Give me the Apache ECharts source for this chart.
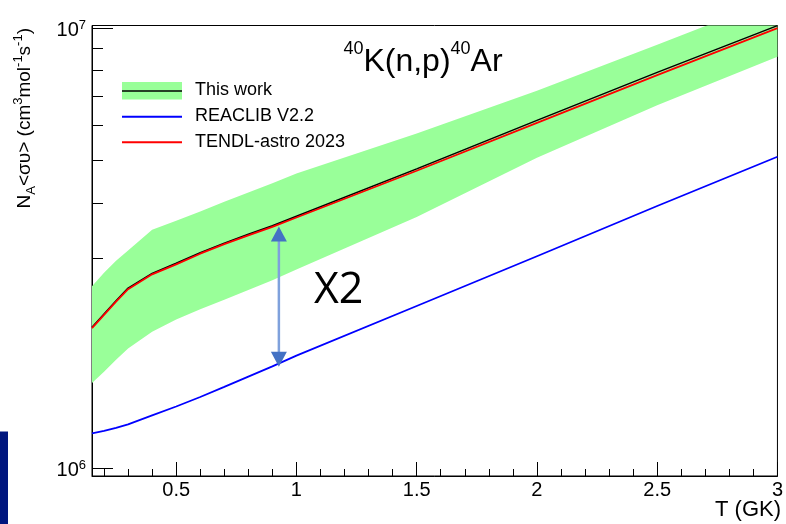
<!DOCTYPE html>
<html>
<head>
<meta charset="utf-8">
<script src="https://cdn.jsdelivr.net/npm/echarts@6/dist/echarts.min.js"></script>
<style>
  html, body { margin: 0; padding: 0; background: #fff; }
  #chart { width: 786px; height: 524px; }
</style>
</head>
<body>
<div id="chart"></div>
<script>
// Temperature grid, T in GK
const temps = [0.15, 0.2, 0.25, 0.3, 0.4, 0.5, 0.6, 0.7, 0.8, 0.9, 1.0, 1.5, 2.0, 2.5, 3.0];

// 40K(n,p)40Ar rates N_A<sigma v> in cm^3 mol^-1 s^-1
const thisWork      = [2.09e6, 2.24e6, 2.40e6, 2.565e6, 2.77e6, 2.92e6, 3.085e6, 3.245e6, 3.40e6, 3.555e6, 3.735e6, 4.785e6, 6.17e6, 7.93e6, 1.013e7];
const thisWorkUpper = [2.59e6, 2.78e6, 2.96e6, 3.12e6, 3.48e6, 3.65e6, 3.83e6, 4.03e6, 4.23e6, 4.44e6, 4.67e6, 5.76e6, 7.20e6, 9.17e6, 1.17e7];
const thisWorkLower = [1.56e6, 1.655e6, 1.762e6, 1.87e6, 2.04e6, 2.175e6, 2.295e6, 2.414e6, 2.54e6, 2.673e6, 2.828e6, 3.72e6, 5.07e6, 6.68e6, 8.61e6];
const reaclib       = [1.199e6, 1.214e6, 1.233e6, 1.256e6, 1.317e6, 1.380e6, 1.450e6, 1.529e6, 1.613e6, 1.702e6, 1.801e6, 2.335e6, 3.03e6, 3.94e6, 5.10e6];
const tendl         = [2.08e6, 2.23e6, 2.39e6, 2.55e6, 2.756e6, 2.904e6, 3.07e6, 3.228e6, 3.38e6, 3.534e6, 3.71e6, 4.74e6, 6.09e6, 7.82e6, 1.0e7];

const seriesNames = ['This work', 'REACLIB V2.2', 'TENDL-astro 2023'];

// Axis ticks
const xMajorTicks = [0.5, 1, 1.5, 2, 2.5, 3];
const xMinorTicks = [0.2, 0.3, 0.4, 0.6, 0.7, 0.8, 0.9, 1.1, 1.2, 1.3, 1.4, 1.6, 1.7, 1.8, 1.9,
                     2.1, 2.2, 2.3, 2.4, 2.6, 2.7, 2.8, 2.9];
const yMajorTicks = [1e6, 1e7];
const yMinorTicks = [2e6, 3e6, 4e6, 5e6, 6e6, 7e6, 8e6, 9e6];

// Factor-of-two annotation between TENDL and REACLIB
const arrowT = 0.927;
const arrowEnds = [3.54e6, 1.70e6];
const arrowLabel = 'X2';

const X_MIN = 0.15, X_MAX = 3.0;
const Y_MIN = 9.59e5, Y_MAX = 1.0137e7;

const FONT = "'Liberation Sans', Arial, Helvetica, sans-serif";
const GREEN = '#99ff99';

const chart = echarts.init(document.getElementById('chart'), null, { renderer: 'canvas' });

const zip = (xs, ys) => xs.map((x, i) => [x, ys[i]]);
const log10 = (v) => Math.log10(v);

// Filled uncertainty band: upper edge left to right, lower edge back
function bandItem(params, api) {
  if (params.dataIndex !== 0) return null;
  const pts = [];
  for (let i = 0; i < temps.length; i++) pts.push(api.coord([temps[i], thisWorkUpper[i]]));
  for (let i = temps.length - 1; i >= 0; i--) pts.push(api.coord([temps[i], thisWorkLower[i]]));
  return {
    type: 'polygon',
    shape: { points: pts },
    style: { fill: GREEN, stroke: null }
  };
}

const tickAxisBase = {
  type: 'value',
  min: log10(Y_MIN),
  max: log10(Y_MAX),
  axisLine: { show: false },
  splitLine: { show: false }
};

const option = {
  animation: false,
  backgroundColor: '#fff',
  grid: {
    left: 92, right: 3, top: 25.5, bottom: 48,
    show: true, borderColor: '#000', borderWidth: 1, backgroundColor: 'transparent'
  },
  xAxis: [
    {
      type: 'value', min: X_MIN, max: X_MAX,
      axisLine: { show: true, lineStyle: { color: '#000', width: 1 } },
      axisTick: { show: true, inside: true, length: 14, customValues: xMajorTicks, lineStyle: { color: '#000', width: 1 } },
      axisLabel: {
        show: true, customValues: xMajorTicks, margin: 4,
        formatter: (v) => String(v),
        color: '#000', fontFamily: FONT, fontSize: 20
      },
      splitLine: { show: false }
    },
    {
      type: 'value', min: X_MIN, max: X_MAX, position: 'bottom',
      axisLine: { show: false },
      axisTick: { show: true, inside: true, length: 7, customValues: xMinorTicks, lineStyle: { color: '#000', width: 1 } },
      axisLabel: { show: false },
      splitLine: { show: false }
    }
  ],
  yAxis: [
    {
      type: 'log', logBase: 10, min: Y_MIN, max: Y_MAX,
      axisLine: { show: true, lineStyle: { color: '#000', width: 1 } },
      axisTick: { show: false },
      axisLabel: { show: false },
      splitLine: { show: false },
      minorTick: { show: false }
    },
    Object.assign({}, tickAxisBase, {
      position: 'left',
      axisTick: { show: true, inside: true, length: 21, customValues: yMajorTicks.map(log10), lineStyle: { color: '#000', width: 1 } },
      axisLabel: {
        show: true, customValues: yMajorTicks.map(log10), margin: 6,
        formatter: (v) => '{m|10}{s|' + Math.round(v) + '}',
        padding: [4, 0, 0, 0],
        rich: {
          m: { fontFamily: FONT, fontSize: 20, lineHeight: 22, color: '#000' },
          s: { fontFamily: FONT, fontSize: 13, lineHeight: 15, color: '#000', verticalAlign: 'top' }
        }
      }
    }),
    Object.assign({}, tickAxisBase, {
      position: 'left',
      axisTick: { show: true, inside: true, length: 11, customValues: yMinorTicks.map(log10), lineStyle: { color: '#000', width: 1 } },
      axisLabel: { show: false }
    })
  ],
  series: [
    {
      name: seriesNames[0] + ' band',
      type: 'custom',
      coordinateSystem: 'cartesian2d',
      xAxisIndex: 0, yAxisIndex: 0,
      clip: true,
      silent: true,
      z: 2,
      renderItem: bandItem,
      data: [[temps[0], thisWorkUpper[0]]]
    },
    {
      name: seriesNames[0], type: 'line', xAxisIndex: 0, yAxisIndex: 0,
      data: zip(temps, thisWork), showSymbol: false, z: 3,
      lineStyle: { color: '#000', width: 1.5 }
    },
    {
      name: seriesNames[1], type: 'line', xAxisIndex: 0, yAxisIndex: 0,
      data: zip(temps, reaclib), showSymbol: false, z: 3,
      lineStyle: { color: '#0000ff', width: 1.8 }
    },
    {
      name: seriesNames[2], type: 'line', xAxisIndex: 0, yAxisIndex: 0,
      data: zip(temps, tendl), showSymbol: false, z: 4,
      lineStyle: { color: '#ff0000', width: 1.8 }
    }
  ]
};

chart.setOption(option);

// Annotation arrow positioned through the data coordinate system
const pTop = chart.convertToPixel({ seriesIndex: 1 }, [arrowT, arrowEnds[0]]);
const pBot = chart.convertToPixel({ seriesIndex: 1 }, [arrowT, arrowEnds[1]]);
const ax = pTop[0];
const headH = 15, headW = 16;

const graphic = [
  // plot title
  {
    type: 'text', x: 423, y: 40, z: 10,
    style: {
      text: '{s|40}{m|K(n,p)}{s|40}{m|Ar}',
      align: 'center', verticalAlign: 'top',
      rich: {
        m: { fontFamily: FONT, fontSize: 32, lineHeight: 44, fill: '#000' },
        s: { fontFamily: FONT, fontSize: 18, lineHeight: 18, fill: '#000', verticalAlign: 'top' }
      }
    }
  },
  // y axis title
  {
    type: 'text', x: 25, y: 28, rotation: Math.PI / 2, z: 10,
    style: {
      text: '{m|N}{b|A}{m|<συ> (cm}{s|3}{m|mol}{s|-1}{m|s}{s|-1}{m|)}',
      align: 'right', verticalAlign: 'middle',
      rich: {
        m: { fontFamily: FONT, fontSize: 19, lineHeight: 26, fill: '#000' },
        s: { fontFamily: FONT, fontSize: 13, lineHeight: 14, fill: '#000', verticalAlign: 'top' },
        b: { fontFamily: FONT, fontSize: 13, lineHeight: 12, fill: '#000', verticalAlign: 'bottom' }
      }
    }
  },
  // x axis title
  {
    type: 'text', x: 781, y: 510, z: 10,
    style: { text: 'T (GK)', align: 'right', verticalAlign: 'middle', fontFamily: FONT, fontSize: 22, fill: '#000' }
  },
  // legend
  { type: 'rect', shape: { x: 122, y: 82, width: 60, height: 17.5 }, style: { fill: GREEN }, z: 10 },
  { type: 'line', shape: { x1: 122, y1: 91, x2: 182, y2: 91 }, style: { stroke: '#000', lineWidth: 1.5 }, z: 11 },
  { type: 'line', shape: { x1: 122, y1: 116.7, x2: 182, y2: 116.7 }, style: { stroke: '#0000ff', lineWidth: 2 }, z: 11 },
  { type: 'line', shape: { x1: 122, y1: 142.3, x2: 182, y2: 142.3 }, style: { stroke: '#ff0000', lineWidth: 2 }, z: 11 },
  { type: 'text', x: 195, y: 90.5, z: 11, style: { text: seriesNames[0], verticalAlign: 'middle', fontFamily: FONT, fontSize: 18, fill: '#000' } },
  { type: 'text', x: 195, y: 116.5, z: 11, style: { text: seriesNames[1], verticalAlign: 'middle', fontFamily: FONT, fontSize: 18, fill: '#000' } },
  { type: 'text', x: 195, y: 142, z: 11, style: { text: seriesNames[2], verticalAlign: 'middle', fontFamily: FONT, fontSize: 18, fill: '#000' } },
  // double-headed arrow
  { type: 'line', shape: { x1: ax, y1: pTop[1] + headH - 1, x2: ax, y2: pBot[1] - headH + 1 }, style: { stroke: '#7fa1dc', lineWidth: 2.5 }, z: 12 },
  { type: 'polygon', shape: { points: [[ax, pTop[1]], [ax - headW / 2, pTop[1] + headH], [ax + headW / 2, pTop[1] + headH]] }, style: { fill: '#4472c4' }, z: 12 },
  { type: 'polygon', shape: { points: [[ax, pBot[1]], [ax - headW / 2, pBot[1] - headH], [ax + headW / 2, pBot[1] - headH]] }, style: { fill: '#4472c4' }, z: 12 },
  {
    type: 'text', x: 314, y: 291, z: 12,
    style: { text: arrowLabel, verticalAlign: 'middle', fontFamily: "'Open Sans', 'Noto Sans', sans-serif", fontSize: 43, fill: '#000' }
  },
  // dark edge strip
  { type: 'rect', shape: { x: 0, y: 431.5, width: 8, height: 93 }, style: { fill: '#00167e' }, z: 12 }
];

chart.setOption({ graphic: graphic });
</script>
</body>
</html>
